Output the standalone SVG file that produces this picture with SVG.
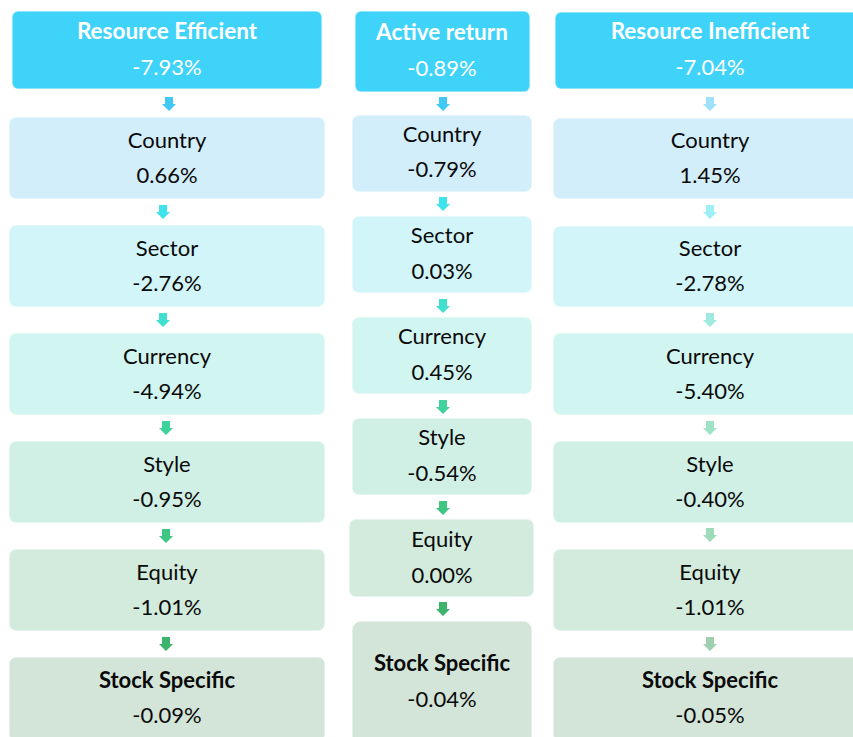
<svg xmlns="http://www.w3.org/2000/svg" xmlns:xlink="http://www.w3.org/1999/xlink" width="853" height="737" viewBox="0 0 853 737">
<defs>
<style>
text{font-family:Lato,"Open Sans","Liberation Sans",sans-serif;font-size:22px;text-anchor:middle;fill:#0a0a0a}
.hd{fill:#40D3F9}
.hdt{fill:#ffffff}
.b{font-weight:bold}
.hdt.b{font-size:22.5px}
.box{stroke:#ffffff;stroke-opacity:0.55;stroke-width:1.5}
.c1{fill:#D2EEFB}
.c2{fill:#D1F5F8}
.c3{fill:#D1F5F0}
.c4{fill:#D1F0E5}
.c5{fill:#D2EBDD}
.c6{fill:#D3E5D8}
</style>
<path id="arr" d="M-4,0 H4 V7 H7 L0,14 L-7,7 H-4 Z"/>
</defs>
<rect width="853" height="737" fill="#ffffff"/>

<!-- Left column: Resource Efficient -->
<g id="re-header"><rect class="hd box" x="12" y="11" width="310" height="78" rx="6"/><text class="hdt b" x="167" y="39">Resource Efficient</text><text class="hdt" x="167" y="75">-7.93%</text></g>
<g id="re-country"><rect class="c1 box" x="9" y="117" width="316" height="82" rx="7"/><text x="167" y="148">Country</text><text x="167" y="183">0.66%</text></g>
<g id="re-sector"><rect class="c2 box" x="9" y="225" width="316" height="82" rx="7"/><text x="167" y="256">Sector</text><text x="167" y="291">-2.76%</text></g>
<g id="re-currency"><rect class="c3 box" x="9" y="333" width="316" height="82" rx="7"/><text x="167" y="364">Currency</text><text x="167" y="399">-4.94%</text></g>
<g id="re-style"><rect class="c4 box" x="9" y="441" width="316" height="82" rx="7"/><text x="167" y="472">Style</text><text x="167" y="507">-0.95%</text></g>
<g id="re-equity"><rect class="c5 box" x="9" y="549" width="316" height="82" rx="7"/><text x="167" y="580">Equity</text><text x="167" y="615">-1.01%</text></g>
<g id="re-stock"><rect class="c6 box" x="9" y="657" width="316" height="84" rx="7"/><text class="b" x="167" y="688">Stock Specific</text><text x="167" y="723">-0.09%</text></g>

<!-- Middle column: Active return -->
<g id="ar-header"><rect class="hd box" x="355" y="11" width="175" height="81" rx="6"/><text class="hdt b" x="442" y="40">Active return</text><text class="hdt" x="442" y="76">-0.89%</text></g>
<g id="ar-country"><rect class="c1 box" x="352" y="115" width="180" height="77" rx="7"/><text x="442" y="142">Country</text><text x="442" y="177">-0.79%</text></g>
<g id="ar-sector"><rect class="c2 box" x="352" y="216" width="180" height="77" rx="7"/><text x="442" y="243">Sector</text><text x="442" y="279">0.03%</text></g>
<g id="ar-currency"><rect class="c3 box" x="352" y="317" width="180" height="77" rx="7"/><text x="442" y="344">Currency</text><text x="442" y="380">0.45%</text></g>
<g id="ar-style"><rect class="c4 box" x="352" y="418" width="180" height="77" rx="7"/><text x="442" y="445">Style</text><text x="442" y="481">-0.54%</text></g>
<g id="ar-equity"><rect class="c5 box" x="349" y="519" width="185" height="78" rx="7"/><text x="442" y="547">Equity</text><text x="442" y="583">0.00%</text></g>
<g id="ar-stock"><rect class="c6 box" x="352" y="621" width="180" height="124" rx="9"/><text class="b" x="442" y="671">Stock Specific</text><text x="442" y="707">-0.04%</text></g>

<!-- Right column: Resource Inefficient -->
<g id="ri-header"><rect class="hd box" x="555" y="12" width="310" height="77" rx="6"/><text class="hdt b" x="710" y="39">Resource Inefficient</text><text class="hdt" x="710" y="75">-7.04%</text></g>
<g id="ri-country"><rect class="c1 box" x="553" y="118" width="316" height="81" rx="7"/><text x="710" y="148">Country</text><text x="710" y="183">1.45%</text></g>
<g id="ri-sector"><rect class="c2 box" x="553" y="226" width="316" height="81" rx="7"/><text x="710" y="256">Sector</text><text x="710" y="291">-2.78%</text></g>
<g id="ri-currency"><rect class="c3 box" x="553" y="333" width="316" height="82" rx="7"/><text x="710" y="364">Currency</text><text x="710" y="399">-5.40%</text></g>
<g id="ri-style"><rect class="c4 box" x="553" y="441" width="316" height="82" rx="7"/><text x="710" y="472">Style</text><text x="710" y="507">-0.40%</text></g>
<g id="ri-equity"><rect class="c5 box" x="553" y="549" width="316" height="82" rx="7"/><text x="710" y="580">Equity</text><text x="710" y="615">-1.01%</text></g>
<g id="ri-stock"><rect class="c6 box" x="553" y="657" width="316" height="84" rx="7"/><text class="b" x="710" y="688">Stock Specific</text><text x="710" y="723">-0.05%</text></g>

<!-- Connectors -->
<g id="connectors">
<use xlink:href="#arr" href="#arr" x="169" y="97" fill="#40C9F4"/>
<use xlink:href="#arr" href="#arr" x="163" y="205" fill="#3FE3EE"/>
<use xlink:href="#arr" href="#arr" x="163" y="313" fill="#3FE0CD"/>
<use xlink:href="#arr" href="#arr" x="166" y="421" fill="#40D29D"/>
<use xlink:href="#arr" href="#arr" x="166" y="529" fill="#40C683"/>
<use xlink:href="#arr" href="#arr" x="166" y="637" fill="#3DB46B"/>

<use xlink:href="#arr" href="#arr" x="443" y="97" fill="#40C9F4"/>
<use xlink:href="#arr" href="#arr" x="443" y="197" fill="#3FE3EE"/>
<use xlink:href="#arr" href="#arr" x="443" y="299" fill="#3FE0CD"/>
<use xlink:href="#arr" href="#arr" x="443" y="400" fill="#40D29D"/>
<use xlink:href="#arr" href="#arr" x="443" y="501" fill="#40C683"/>
<use xlink:href="#arr" href="#arr" x="443" y="602" fill="#3DB46B"/>

<use xlink:href="#arr" href="#arr" x="710" y="97" fill="#9EE1F8"/>
<use xlink:href="#arr" href="#arr" x="710" y="205" fill="#9EF0F5"/>
<use xlink:href="#arr" href="#arr" x="710" y="313" fill="#9EEADF"/>
<use xlink:href="#arr" href="#arr" x="710" y="421" fill="#9EE3C8"/>
<use xlink:href="#arr" href="#arr" x="710" y="528" fill="#9DDBBA"/>
<use xlink:href="#arr" href="#arr" x="710" y="637" fill="#9FCFAF"/>
</g>
</svg>
